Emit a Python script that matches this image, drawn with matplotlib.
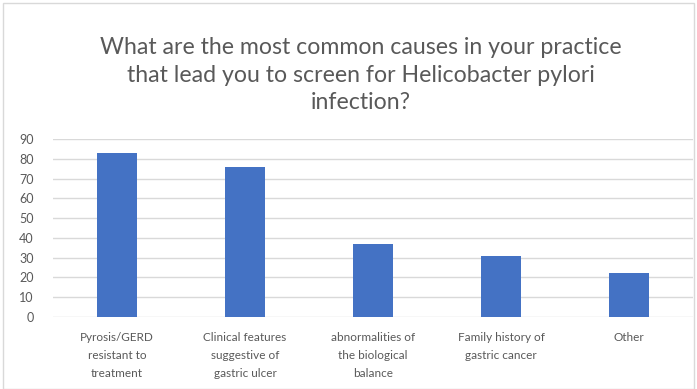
import matplotlib
matplotlib.use("Agg")
import matplotlib.pyplot as plt
from matplotlib.patches import Rectangle

categories = [
    "Pyrosis/GERD\nresistant to\ntreatment",
    "Clinical features\nsuggestive of\ngastric ulcer",
    "abnormalities of\nthe biological\nbalance",
    "Family history of\ngastric cancer",
    "Other",
]
values = [83, 76, 37, 31, 22]
y_ticks = [0, 10, 20, 30, 40, 50, 60, 70, 80, 90]
title = ("What are the most common causes in your practice\n"
         "that lead you to screen for Helicobacter pylori\n"
         "infection?")

text_color = "#595959"
bar_color = "#4472C4"
grid_color = "#D9D9D9"

plt.rcParams["font.family"] = ["Lato", "DejaVu Sans"]

W, H = 697, 389
fig = plt.figure(figsize=(W / 100, H / 100), dpi=100)

# plot area in pixel coordinates
left, right, top, bottom = 53, 693, 139, 317
ax = fig.add_axes([left / W, 1 - bottom / H, (right - left) / W, (bottom - top) / H])

x = list(range(len(categories)))
ax.bar(x, values, width=0.305, color=bar_color, zorder=3)

ax.set_xlim(-0.5, len(categories) - 0.5)
ax.set_ylim(0, 90)
ax.set_yticks(y_ticks)
ax.set_xticks(x)
ax.set_xticklabels(categories, fontsize=8.5, color=text_color, linespacing=1.75)
ax.tick_params(axis="y", labelsize=9, labelcolor=text_color, length=0, pad=14)
ax.tick_params(axis="x", length=0, pad=11)
ax.yaxis.grid(True, color=grid_color, linewidth=1, zorder=0)
for s in ax.spines.values():
    s.set_visible(False)

fig.text(361 / W, 1 - 75 / H, title, ha="center", va="center",
         fontsize=16.7, color=text_color, linespacing=1.4)

# chart area outline
fig.patches.append(Rectangle((3 / W, 0), 1 - 6 / W, 1 - 3 / H, transform=fig.transFigure,
                             fill=False, edgecolor="#D9D9D9", linewidth=1))

fig.savefig("out.png", dpi=100)
